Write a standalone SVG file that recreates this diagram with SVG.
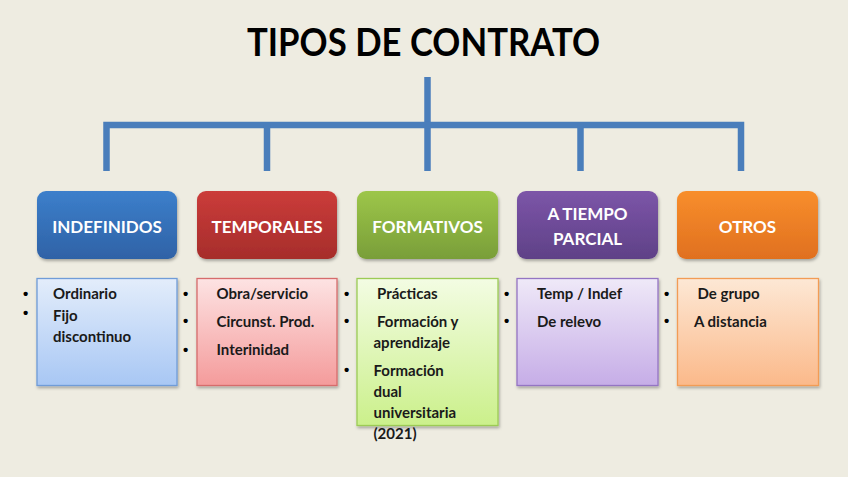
<svg xmlns="http://www.w3.org/2000/svg" width="848" height="477" viewBox="0 0 848 477">
<defs>
<linearGradient id="gBlue" x1="0" y1="0" x2="0" y2="1"><stop offset="0" stop-color="#3C7FCB"/><stop offset="1" stop-color="#2F62A6"/></linearGradient>
<linearGradient id="gRed" x1="0" y1="0" x2="0" y2="1"><stop offset="0" stop-color="#CB3C3A"/><stop offset="1" stop-color="#A62D2B"/></linearGradient>
<linearGradient id="gGreen" x1="0" y1="0" x2="0" y2="1"><stop offset="0" stop-color="#9DC649"/><stop offset="1" stop-color="#799E39"/></linearGradient>
<linearGradient id="gPurple" x1="0" y1="0" x2="0" y2="1"><stop offset="0" stop-color="#7C55A8"/><stop offset="1" stop-color="#5F4187"/></linearGradient>
<linearGradient id="gOrange" x1="0" y1="0" x2="0" y2="1"><stop offset="0" stop-color="#F88E2C"/><stop offset="1" stop-color="#E0701F"/></linearGradient>
<linearGradient id="lBlue" x1="0" y1="0" x2="0" y2="1"><stop offset="0" stop-color="#E3EDFB"/><stop offset="1" stop-color="#A8C7F4"/></linearGradient>
<linearGradient id="lRed" x1="0" y1="0" x2="0" y2="1"><stop offset="0" stop-color="#FDE3E3"/><stop offset="1" stop-color="#F49B9B"/></linearGradient>
<linearGradient id="lGreen" x1="0" y1="0" x2="0" y2="1"><stop offset="0" stop-color="#F3FCE3"/><stop offset="1" stop-color="#CBF08B"/></linearGradient>
<linearGradient id="lPurple" x1="0" y1="0" x2="0" y2="1"><stop offset="0" stop-color="#EFE9F8"/><stop offset="1" stop-color="#C6ADE7"/></linearGradient>
<linearGradient id="lOrange" x1="0" y1="0" x2="0" y2="1"><stop offset="0" stop-color="#FDE8D5"/><stop offset="1" stop-color="#FBB98A"/></linearGradient>
<filter id="sh" x="-10%" y="-10%" width="130%" height="130%"><feDropShadow dx="1" dy="2" stdDeviation="1.5" flood-color="#000" flood-opacity="0.3"/></filter>
</defs>
<style>
.title{font-family:Lato,"Liberation Sans",sans-serif;font-weight:bold;font-size:38px;fill:#000}
.hd{font-family:Lato,"Liberation Sans",sans-serif;font-weight:bold;font-size:17px;fill:#fff;text-anchor:middle}
.it{font-family:Lato,"Liberation Sans",sans-serif;font-weight:bold;font-size:15px;fill:#1a1a1a}
.bu{font-family:"Liberation Sans",sans-serif;font-weight:bold;font-size:15px;fill:#000}
.con{stroke:#4A7EBB;stroke-width:6.5;fill:none}
.hbox{filter:url(#sh)}
.lbox{stroke-width:1.3;filter:url(#sh)}
</style>
<rect width="848" height="477" fill="#EEECE1"/>
<text class="title" x="247" y="56" textLength="353" lengthAdjust="spacingAndGlyphs">TIPOS DE CONTRATO</text>
<g id="connectors">
<line class="con" x1="427.5" y1="77" x2="427.5" y2="171"/>
<polyline class="con" points="106.5,171 106.5,125 741,125 741,171"/>
<line class="con" x1="267" y1="125" x2="267" y2="171"/>
<line class="con" x1="580.5" y1="125" x2="580.5" y2="171"/>
</g>
<g id="indefinidos">
<rect class="hbox" x="37" y="191" width="140" height="68" rx="9" fill="url(#gBlue)"/>
<text class="hd" x="107" y="232.5">INDEFINIDOS</text>
</g>
<g id="temporales">
<rect class="hbox" x="197" y="191" width="140" height="68" rx="9" fill="url(#gRed)"/>
<text class="hd" x="267" y="232.5">TEMPORALES</text>
</g>
<g id="formativos">
<rect class="hbox" x="357" y="191" width="141" height="68" rx="9" fill="url(#gGreen)"/>
<text class="hd" x="427.5" y="232.5">FORMATIVOS</text>
</g>
<g id="parcial">
<rect class="hbox" x="517" y="191" width="141" height="68" rx="9" fill="url(#gPurple)"/>
<text class="hd" x="587.5" y="220">A TIEMPO</text>
<text class="hd" x="587.5" y="245">PARCIAL</text>
</g>
<g id="otros">
<rect class="hbox" x="677" y="191" width="141" height="68" rx="9" fill="url(#gOrange)"/>
<text class="hd" x="747.5" y="232.5">OTROS</text>
</g>
<g id="list-indefinidos">
<rect class="lbox" x="37" y="278.5" width="140" height="107" fill="url(#lBlue)" stroke="#6F9CD8"/>
<text class="bu" x="23" y="298.5">•</text>
<text class="bu" x="23" y="317.5">•</text>
<text class="it" x="53" y="298.5">Ordinario</text>
<text class="it" x="53" y="320.5">Fijo</text>
<text class="it" x="53" y="341.5">discontinuo</text>
</g>
<g id="list-temporales">
<rect class="lbox" x="197" y="278.5" width="140" height="107" fill="url(#lRed)" stroke="#D66C6C"/>
<text class="bu" x="183" y="298.5">•</text>
<text class="bu" x="183" y="326">•</text>
<text class="bu" x="183" y="354.5">•</text>
<text class="it" x="216.5" y="298.5">Obra/servicio</text>
<text class="it" x="216.5" y="326.5">Circunst. Prod.</text>
<text class="it" x="216.5" y="355">Interinidad</text>
</g>
<g id="list-formativos">
<rect class="lbox" x="357" y="278.5" width="141" height="147" fill="url(#lGreen)" stroke="#9CCB55"/>
<text class="bu" x="344" y="298.5">•</text>
<text class="bu" x="344" y="326">•</text>
<text class="bu" x="344" y="374.5">•</text>
<text class="it" x="377" y="298.5">Prácticas</text>
<text class="it" x="377" y="326.5">Formación y</text>
<text class="it" x="373.5" y="347.5">aprendizaje</text>
<text class="it" x="373.5" y="376">Formación</text>
<text class="it" x="373.5" y="397">dual</text>
<text class="it" x="373.5" y="418">universitaria</text>
<text class="it" x="373.5" y="439">(2021)</text>
</g>
<g id="list-parcial">
<rect class="lbox" x="517" y="278.5" width="141" height="107" fill="url(#lPurple)" stroke="#9474C3"/>
<text class="bu" x="504" y="298.5">•</text>
<text class="bu" x="504" y="326">•</text>
<text class="it" x="537" y="298.5">Temp / Indef</text>
<text class="it" x="537" y="326.5">De relevo</text>
</g>
<g id="list-otros">
<rect class="lbox" x="677.5" y="278.5" width="141" height="107" fill="url(#lOrange)" stroke="#F29C55"/>
<text class="bu" x="664" y="298.5">•</text>
<text class="bu" x="664" y="326">•</text>
<text class="it" x="697.5" y="298.5">De grupo</text>
<text class="it" x="694" y="326.5">A distancia</text>
</g>
</svg>
